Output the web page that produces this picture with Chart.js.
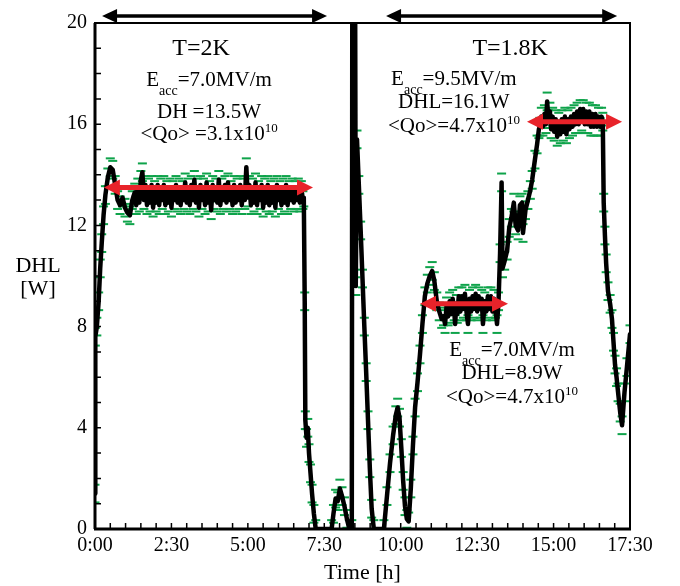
<!DOCTYPE html>
<html>
<head>
<meta charset="utf-8">
<script src="https://cdn.jsdelivr.net/npm/chart.js@4.4.1/dist/chart.umd.min.js"></script>
<style>
  html, body { margin: 0; padding: 0; background: #fff; }
</style>
</head>
<body>
<canvas id="chart" width="680" height="586"></canvas>
<script>
// run at T=2K (hours, W)
const time2K = [0.00, 0.01, 0.06, 0.12, 0.17, 0.22, 0.28, 0.34, 0.42, 0.50, 0.58, 0.66, 0.74, 0.82, 0.90, 0.98,
  1.06, 1.14, 1.22,
  1.30, 1.35, 1.40, 1.45, 1.50, 1.55, 1.60, 1.65, 1.70, 1.75, 1.80, 1.85, 1.90, 1.95, 2.00, 2.05, 2.10, 2.15,
  2.20, 2.25, 2.30, 2.35, 2.40, 2.45, 2.50, 2.55, 2.60, 2.65, 2.70, 2.75, 2.80, 2.85, 2.90, 2.95, 3.00, 3.05,
  3.10, 3.15, 3.20, 3.25, 3.30, 3.35, 3.40, 3.45, 3.50, 3.55, 3.60, 3.65, 3.70, 3.75, 3.80, 3.85, 3.90, 3.95,
  4.00, 4.05, 4.10, 4.15, 4.20, 4.25, 4.30, 4.35, 4.40, 4.45, 4.50, 4.55, 4.60, 4.65, 4.70, 4.75, 4.80, 4.85,
  4.90, 4.95, 5.00, 5.05, 5.10, 5.15, 5.20, 5.25, 5.30, 5.35, 5.40, 5.45, 5.50, 5.55, 5.60, 5.65, 5.70, 5.75,
  5.80, 5.85, 5.90, 5.95, 6.00, 6.05, 6.10, 6.15, 6.20, 6.25, 6.30, 6.35, 6.40, 6.45, 6.50, 6.55, 6.60, 6.65,
  6.70, 6.75, 6.80, 6.83,
  6.86, 6.88, 6.92, 6.96, 7.00, 7.05, 7.10, 7.16, 7.22, 7.74, 7.80, 7.87, 7.94, 8.01, 8.08, 8.16, 8.24, 8.32, 8.40];
const dhl2K = [1.4, 7.6, 8.0, 9.0, 10.3, 11.3, 12.4, 13.2, 13.9, 14.3, 14.2, 13.6, 13.0, 12.8, 13.1, 12.7,
  12.5, 12.4, 13.0,
  13.3, 12.8, 13.5, 12.9, 13.8, 14.1, 13.0, 13.6, 12.8, 13.5, 12.9, 13.6, 12.7, 13.4, 12.9, 13.6, 12.8, 13.5,
  13.0, 13.6, 12.8, 13.4, 12.9, 13.5, 12.7, 13.4, 13.0, 13.6, 12.9, 13.5, 12.8, 13.4, 13.0, 13.7, 12.9, 13.5,
  12.8, 13.6, 13.0, 13.8, 12.9, 13.5, 12.7, 13.6, 13.0, 13.5, 12.8, 13.7, 12.9, 13.4, 12.6, 13.6, 13.0, 13.5,
  12.9, 13.8, 12.8, 13.5, 13.0, 13.6, 12.9, 13.7, 13.0, 13.4, 12.8, 13.6, 12.9, 13.5, 13.0, 13.6, 12.8, 13.5,
  13.0, 14.3, 13.1, 13.6, 12.8, 13.5, 12.9, 13.7, 12.8, 13.4, 13.0, 13.6, 12.7, 13.5, 12.9, 13.6, 12.8, 13.4,
  12.9, 13.5, 12.7, 13.6, 13.0, 13.4, 12.8, 13.5, 12.9, 13.6, 12.8, 13.4, 13.0, 13.5, 12.9, 13.4, 13.0, 13.5,
  12.9, 13.4, 13.0, 13.1,
  9.0, 4.3, 3.6, 4.0, 3.0, 2.2, 1.4, 0.6, 0, 0, 0.6, 1.2, 1.1, 1.6, 1.3, 0.9, 0.4, 0, 0];

// run at T=1.8K
const time18K = [8.42, 8.50, 8.53, 8.57, 8.63, 8.69, 8.75, 8.81, 8.87, 8.93, 8.99, 9.05, 9.12, 9.45, 9.55,
  9.65, 9.75, 9.84, 9.90, 9.96, 10.02, 10.08, 10.14, 10.20, 10.26, 10.33, 10.40, 10.47, 10.55, 10.63, 10.71,
  10.79, 10.87, 10.95, 11.03, 11.10, 11.18, 11.26, 11.34, 11.40,
  11.45, 11.50, 11.55, 11.60, 11.65, 11.70, 11.75, 11.78, 11.82, 11.85, 11.90, 11.95, 12.00, 12.05, 12.10,
  12.15, 12.20, 12.25, 12.30, 12.35, 12.40, 12.45, 12.50, 12.55, 12.60, 12.65, 12.69, 12.75, 12.80, 12.85,
  12.90, 12.95, 13.00, 13.05, 13.10, 13.15, 13.20,
  13.25, 13.30, 13.33, 13.40, 13.48, 13.55, 13.62, 13.70, 13.76, 13.84, 13.90, 13.97, 14.00, 14.08, 14.16,
  14.24, 14.30, 14.39, 14.46, 14.52,
  14.55, 14.60, 14.65, 14.70, 14.75, 14.79, 14.83, 14.88, 14.92, 14.97, 15.02, 15.07, 15.12, 15.17, 15.22,
  15.27, 15.32, 15.37, 15.42, 15.47, 15.52, 15.57, 15.62, 15.67, 15.72, 15.77, 15.82, 15.87, 15.92, 15.97,
  16.02, 16.07, 16.12, 16.17, 16.22, 16.27, 16.32, 16.37, 16.42, 16.47, 16.52, 16.57, 16.61,
  16.64, 16.68, 16.72, 16.78, 16.85, 16.91, 16.96, 17.01, 17.06, 17.11, 17.18, 17.24, 17.32, 17.40, 17.50];
const dhl18K = [26, 26, 9.6, 15.4, 13.6, 11.8, 9.9, 8.0, 6.2, 4.3, 2.4, 0.8, 0, 0, 1.3,
  2.6, 3.7, 4.5, 4.8, 4.4, 3.2, 1.9, 0.9, 0.4, 0.3, 1.6, 3.3, 4.8, 5.8, 6.9, 8.1,
  9.2, 9.7, 10.0, 10.2, 9.8, 9.0, 8.6, 8.3, 8.4,
  8.1, 8.8, 8.4, 9.0, 8.5, 9.1, 8.6, 8.1, 8.9, 8.5, 9.2, 8.6, 9.2, 8.7, 9.3,
  8.6, 8.1, 9.1, 8.6, 9.2, 8.7, 9.3, 8.6, 9.2, 8.7, 9.1, 8.1, 9.0, 8.6, 9.2,
  8.7, 9.2, 8.6, 9.1, 8.7, 8.1, 9.0,
  10.9, 13.7, 10.3, 10.6, 11.0, 11.9, 12.3, 12.9, 12.0, 11.8, 12.8, 12.9, 11.7, 12.6, 13.0,
  13.4, 13.8, 14.6, 15.2, 15.8,
  15.9, 16.3, 15.9, 16.4, 16.0, 16.9, 16.2, 16.5, 15.8, 16.3, 15.7, 16.2, 15.5, 16.1, 15.6,
  16.2, 15.7, 16.3, 15.6, 16.2, 15.8, 16.3, 15.9, 16.4, 16.0, 16.5, 16.0, 16.6, 16.1, 16.6,
  16.0, 16.5, 16.0, 16.5, 15.9, 16.4, 15.9, 16.4, 15.9, 16.3, 15.9, 16.3, 16.1,
  12.9, 11.6, 10.5, 9.4, 8.9, 8.3, 7.4, 6.5, 6.0, 5.4, 4.6, 4.1, 5.4, 6.4, 7.7];

const errW = 0.35;

const xTickLabels = ['0:00', '2:30', '5:00', '7:30', '10:00', '12:30', '15:00', '17:30'];

// averaged plateaus (red arrows): start, end, level
const plateauStart = [0.29, 10.63, 14.13];
const plateauEnd = [7.13, 13.51, 17.24];
const plateauLevel = [13.5, 8.9, 16.1];

// temperature runs (black arrows on top)
const runStart = [0.23, 9.52];
const runEnd = [7.59, 17.08];
const runLabels = ['T=2K', 'T=1.8K'];
const runLabelX = [3.47, 13.58];

const serif = '"Liberation Serif", "Times New Roman", serif';
const green = '#0ea34a';
const red = '#e8232a';

const allTime = time2K.concat(time18K);
const allDhl = dhl2K.concat(dhl18K);
const trace = allTime.map((t, i) => ({ x: t, y: allDhl[i] }));
const errUp = allTime.map((t, i) => ({ x: t, y: allDhl[i] + errW }));
const errDown = allTime.map((t, i) => ({ x: t, y: allDhl[i] - errW }));

function richText(ctx, parts, cx, y) {
  let w = 0;
  parts.forEach(p => { ctx.font = p[1] + 'px ' + serif; w += ctx.measureText(p[0]).width; });
  let x = cx - w / 2;
  parts.forEach(p => {
    ctx.font = p[1] + 'px ' + serif;
    ctx.fillText(p[0], x, y + p[2]);
    x += ctx.measureText(p[0]).width;
  });
}
const eacc = v => [['E', 21, 0], ['acc', 14, 9], ['=' + v + 'MV/m', 21, 0]];
const qo = s => [[s + 'x10', 21, 0], ['10', 13, -8]];

// text blocks: centre time, baseline values, lines
const notes = [
  { t: 3.73, w: [17.51, 16.25, 15.38], lines: [eacc('7.0'), [['DH =13.5W', 21, 0]], qo('<Qo> =3.1')] },
  { t: 11.74, w: [17.55, 16.64, 15.69], lines: [eacc('9.5'), [['DHL=16.1W', 21, 0]], qo('<Qo>=4.7')] },
  { t: 13.64, w: [6.84, 5.93, 4.98], lines: [eacc('7.0'), [['DHL=8.9W', 21, 0]], qo('<Qo>=4.7')] }
];

function arrow(ctx, x1, x2, y, color, lw, hl, hh) {
  ctx.save();
  ctx.strokeStyle = color;
  ctx.fillStyle = color;
  ctx.lineWidth = lw;
  ctx.beginPath();
  ctx.moveTo(x1 + hl - 1, y);
  ctx.lineTo(x2 - hl + 1, y);
  ctx.stroke();
  ctx.beginPath();
  ctx.moveTo(x1, y); ctx.lineTo(x1 + hl, y - hh); ctx.lineTo(x1 + hl, y + hh); ctx.closePath(); ctx.fill();
  ctx.beginPath();
  ctx.moveTo(x2, y); ctx.lineTo(x2 - hl, y - hh); ctx.lineTo(x2 - hl, y + hh); ctx.closePath(); ctx.fill();
  ctx.restore();
}

const decor = {
  id: 'decor',
  afterDatasetsDraw(chart) {
    const { ctx, chartArea: a, scales: { x, y } } = chart;
    ctx.save();
    // frame
    ctx.strokeStyle = '#000';
    ctx.lineWidth = 2;
    ctx.strokeRect(a.left, a.top, a.right - a.left, a.bottom - a.top);
    ctx.lineWidth = 3;
    ctx.beginPath();
    ctx.moveTo(a.left - 1, a.bottom); ctx.lineTo(a.right + 1, a.bottom);
    ctx.moveTo(a.left, a.top); ctx.lineTo(a.left, a.bottom);
    ctx.stroke();
    // inward ticks
    ctx.lineWidth = 1.5;
    ctx.beginPath();
    for (let v = 1; v < 20; v++) {
      const py = y.getPixelForValue(v);
      ctx.moveTo(a.left, py); ctx.lineTo(a.left + 6, py);
    }
    for (let t = 0.5; t < 17.5; t += 0.5) {
      const px = x.getPixelForValue(t);
      ctx.moveTo(px, a.bottom); ctx.lineTo(px, a.bottom - 6);
    }
    ctx.stroke();
    // plateau arrows
    plateauStart.forEach((s, i) => {
      arrow(ctx, x.getPixelForValue(s), x.getPixelForValue(plateauEnd[i]), y.getPixelForValue(plateauLevel[i]), red, 5, 16, 8);
    });
    // run arrows + labels
    ctx.fillStyle = '#000';
    ctx.textBaseline = 'alphabetic';
    runStart.forEach((s, i) => {
      arrow(ctx, x.getPixelForValue(s), x.getPixelForValue(runEnd[i]), a.top - 7, '#000', 3.5, 15, 7);
      richText(ctx, [[runLabels[i], 24, 0]], x.getPixelForValue(runLabelX[i]), a.top + 32);
    });
    notes.forEach(n => {
      n.lines.forEach((ln, j) => richText(ctx, ln, x.getPixelForValue(n.t), y.getPixelForValue(n.w[j])));
    });
    // y title
    richText(ctx, [['DHL', 22, 0]], a.left - 57, 272);
    richText(ctx, [['[W]', 22, 0]], a.left - 57, 295);
    ctx.restore();
  }
};

new Chart(document.getElementById('chart'), {
  type: 'line',
  data: {
    datasets: [
      {
        data: trace,
        borderColor: '#000',
        borderWidth: 4.5,
        pointRadius: 0,
        tension: 0,
        borderJoinStyle: 'round',
        borderCapStyle: 'round',
        order: 0
      },
      {
        data: errUp,
        showLine: false,
        pointStyle: 'line',
        pointRadius: 4.5,
        pointBorderWidth: 2,
        pointBorderColor: green,
        order: 1
      },
      {
        data: errDown,
        showLine: false,
        pointStyle: 'line',
        pointRadius: 4.5,
        pointBorderWidth: 2,
        pointBorderColor: green,
        order: 2
      }
    ]
  },
  options: {
    responsive: false,
    animation: false,
    devicePixelRatio: 1,
    layout: { padding: { top: 23, right: 50, left: 0, bottom: 0 } },
    plugins: { legend: { display: false }, tooltip: { enabled: false } },
    scales: {
      x: {
        type: 'linear',
        min: 0,
        max: 17.5,
        grid: { display: false, drawTicks: false },
        border: { display: false },
        ticks: {
          stepSize: 2.5,
          autoSkip: false,
          maxRotation: 0,
          padding: 5,
          color: '#000',
          font: { family: serif, size: 20 },
          callback: v => xTickLabels[Math.round(v / 2.5)]
        },
        title: { display: true, text: 'Time [h]', color: '#000', font: { family: serif, size: 22 }, padding: 0 },
        afterFit: s => { s.height = 57; }
      },
      y: {
        min: 0,
        max: 20,
        grid: { display: false, drawTicks: false },
        border: { display: false },
        ticks: { stepSize: 4, padding: 8, color: '#000', font: { family: serif, size: 20 } },
        afterFit: s => { s.width = 95; }
      }
    }
  },
  plugins: [decor]
});
</script>
</body>
</html>
